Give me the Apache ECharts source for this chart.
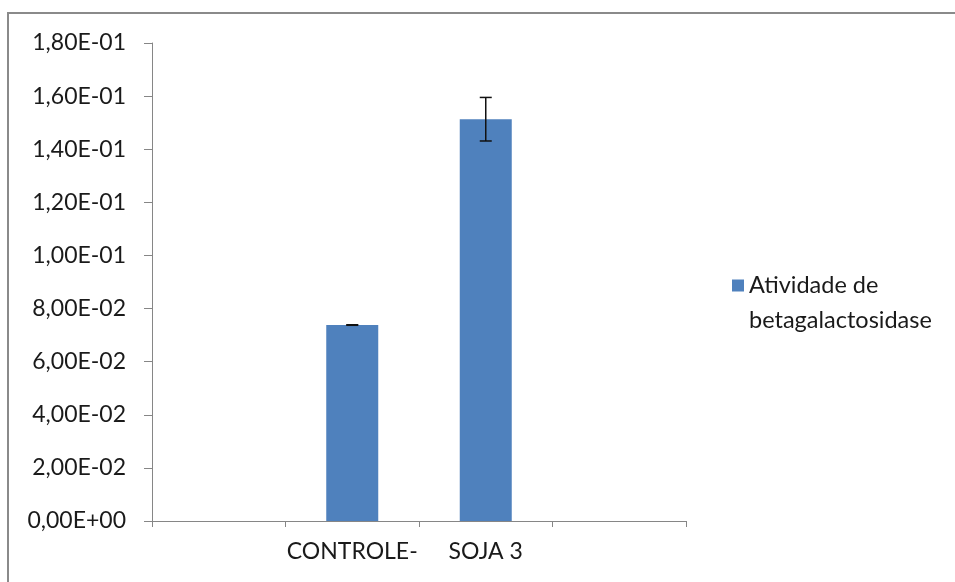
<!DOCTYPE html>
<html>
<head>
<meta charset="utf-8">
<script src="https://cdn.jsdelivr.net/npm/echarts@6/dist/echarts.min.js"></script>
<style>html,body{margin:0;padding:0;background:#fff;}#c{width:955px;height:582px;}</style>
</head>
<body>
<div id="c"></div>
<script>
const categories = ['', 'CONTROLE-', 'SOJA 3', ''];
const seriesName = 'Atividade de betagalactosidase';
const legendLines = ['', 'Atividade de', 'betagalactosidase'];
const values = [null, 0.0738, 0.1513, null];
const errors = [null, 0.0001, 0.0082, null];
const yTickLabels = ['0,00E+00','2,00E-02','4,00E-02','6,00E-02','8,00E-02','1,00E-01','1,20E-01','1,40E-01','1,60E-01','1,80E-01'];
const yStep = 0.02;
const yMax = 0.18;

const FONT = 'Lato';
const TXT = '#1a1a1a';
const chart = echarts.init(document.getElementById('c'), null, {renderer: 'canvas'});
const errData = categories.map((c, i) => values[i] == null ? null : [i, values[i] - errors[i], values[i] + errors[i]]).filter(d => d);

chart.setOption({
  animation: false,
  backgroundColor: '#fff',
  graphic: [{
    type: 'rect', z: -1, silent: true,
    shape: {x: 8, y: 13, width: 1000, height: 700},
    style: {fill: 'none', stroke: '#8a8a8a', lineWidth: 2}
  }],
  grid: {left: 152, top: 43, right: 269, bottom: 61, containLabel: false},
  legend: {
    left: 727, top: 228, orient: 'vertical',
    icon: 'rect', itemWidth: 12, itemHeight: 12,
    data: [seriesName],
    formatter: () => legendLines.join('\n'),
    textStyle: {fontFamily: FONT, fontSize: 23.5, color: TXT, lineHeight: 35}
  },
  xAxis: {
    type: 'category', data: categories, boundaryGap: true,
    axisLine: {lineStyle: {color: '#868686', width: 1}},
    axisTick: {show: true, length: 6, alignWithLabel: false, lineStyle: {color: '#868686'}},
    axisLabel: {fontFamily: FONT, fontSize: 23, color: TXT, margin: 19, interval: 0}
  },
  yAxis: {
    type: 'value', min: 0, max: yMax, interval: yStep,
    axisLine: {show: true, lineStyle: {color: '#868686', width: 1}},
    axisTick: {show: true, length: 8, lineStyle: {color: '#868686'}},
    splitLine: {show: false},
    axisLabel: {fontFamily: FONT, fontSize: 23, color: TXT, margin: 26,
      formatter: v => yTickLabels[Math.round(v / yStep)]}
  },
  series: [{
    name: seriesName, type: 'bar', data: values, barWidth: 52,
    itemStyle: {color: '#4f81bd'}
  }, {
    type: 'custom', name: 'err', data: errData, z: 10,
    renderItem: function (params, api) {
      const x = api.value(0);
      const lo = api.coord([x, api.value(1)]);
      const hi = api.coord([x, api.value(2)]);
      const hw = 6;
      const st = {stroke: '#111', lineWidth: 1.5};
      return {type: 'group', children: [
        {type: 'line', shape: {x1: lo[0], y1: lo[1], x2: hi[0], y2: hi[1]}, style: st},
        {type: 'line', shape: {x1: hi[0]-hw, y1: hi[1], x2: hi[0]+hw, y2: hi[1]}, style: st},
        {type: 'line', shape: {x1: lo[0]-hw, y1: lo[1], x2: lo[0]+hw, y2: lo[1]}, style: st}
      ]};
    }
  }]
});
</script>
</body>
</html>
